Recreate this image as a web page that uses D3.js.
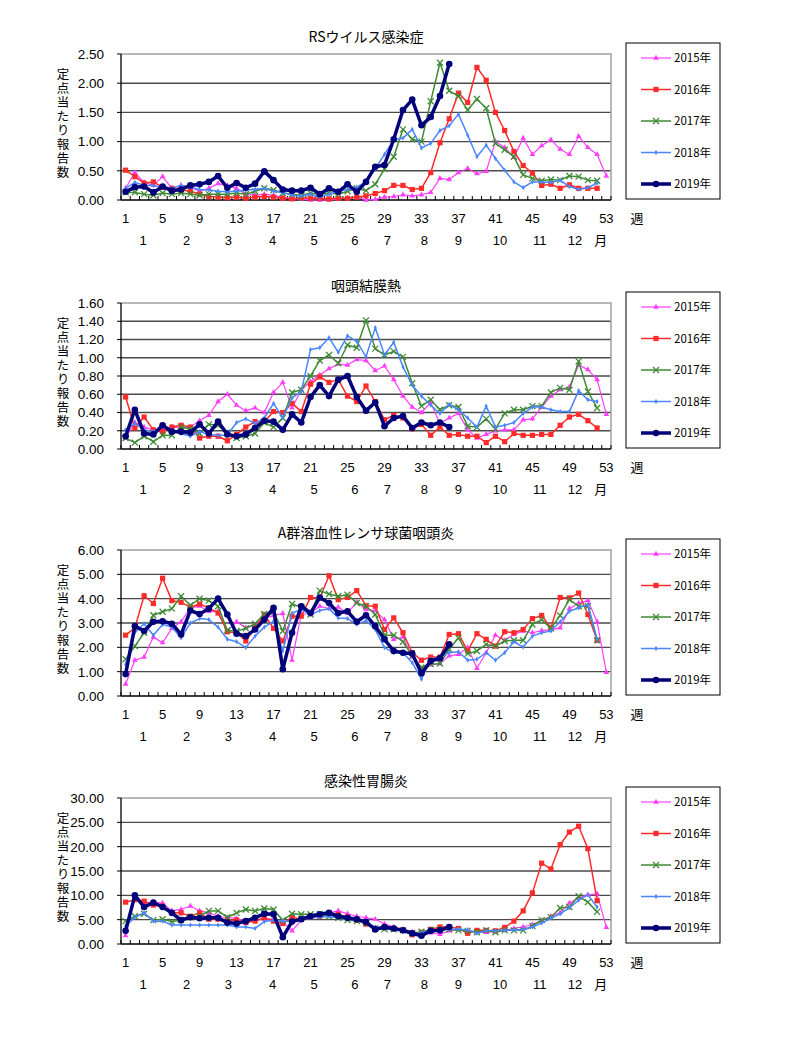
<!DOCTYPE html>
<html><head><meta charset="utf-8">
<script src="https://cdn.jsdelivr.net/npm/d3@7"></script>
<style>
body{margin:0;background:#fff;}
text{font-family:"Liberation Sans",Arial,"Noto Sans CJK JP",sans-serif;fill:#000;}
.jp{font-family:"Noto Sans CJK JP","Liberation Sans",sans-serif;}
.vt{writing-mode:vertical-rl;text-orientation:upright;}
</style>
</head><body><svg id="c" width="800" height="1050"></svg>
<script>
const weeks = d3.range(1, 54);
const years = ["2015年", "2016年", "2017年", "2018年", "2019年"];
const weekTicks = [1, 5, 9, 13, 17, 21, 25, 29, 33, 37, 41, 45, 49, 53];
const monthLabels = ["1","2","3","4","5","6","7","8","9","10","11","12"];
const monthWeeks = [2.9, 7.6, 12.1, 16.9, 21.4, 25.8, 29.3, 33.3, 37.0, 41.5, 45.8, 49.6];
const titles = ["RSウイルス感染症", "咽頭結膜熱", "A群溶血性レンサ球菌咽頭炎", "感染性胃腸炎"];
const yTitle = "定点当たり報告数";
const yMaxes = [2.5, 1.6, 6, 30];
const ySteps = [0.5, 0.2, 1, 5];

// RSウイルス感染症
const rs2015 = [0.20,0.47,0.30,0.25,0.40,0.20,0.25,0.22,0.15,0.20,0.28,0.25,0.20,0.10,0.08,0.10,0.08,0.05,0.02,0.02,0.00,0.00,0.00,0.02,0.03,0.05,0.00,0.01,0.05,0.06,0.09,0.07,0.09,0.13,0.37,0.35,0.47,0.54,0.45,0.49,1.00,0.90,0.73,1.06,0.78,0.93,1.03,0.87,0.78,1.09,0.90,0.78,0.41];
const rs2016 = [0.51,0.40,0.29,0.31,0.22,0.20,0.17,0.15,0.10,0.06,0.05,0.04,0.05,0.03,0.05,0.06,0.05,0.03,0.02,0.04,0.03,0.03,0.02,0.03,0.03,0.05,0.07,0.11,0.16,0.25,0.25,0.18,0.20,0.47,0.98,1.39,1.83,1.67,2.27,2.05,1.50,1.19,0.83,0.59,0.46,0.25,0.27,0.20,0.26,0.20,0.20,0.20];
const rs2017 = [0.13,0.13,0.10,0.08,0.12,0.10,0.12,0.10,0.08,0.10,0.10,0.10,0.12,0.10,0.15,0.20,0.17,0.12,0.10,0.08,0.12,0.10,0.12,0.10,0.15,0.20,0.16,0.27,0.53,0.74,1.21,1.04,1.00,1.69,2.35,1.87,1.78,1.54,1.73,1.57,0.97,0.86,0.74,0.43,0.37,0.33,0.35,0.34,0.41,0.40,0.34,0.33];
const rs2018 = [0.20,0.30,0.25,0.25,0.22,0.20,0.25,0.22,0.18,0.17,0.15,0.14,0.15,0.17,0.18,0.20,0.15,0.13,0.08,0.07,0.10,0.05,0.10,0.15,0.18,0.22,0.31,0.54,0.78,1.03,1.06,1.21,0.89,0.97,1.19,1.27,1.47,1.11,0.74,0.94,0.71,0.51,0.31,0.21,0.31,0.31,0.30,0.34,0.23,0.18,0.21,0.29];
const rs2019 = [0.14,0.22,0.23,0.13,0.23,0.16,0.18,0.25,0.27,0.31,0.41,0.21,0.29,0.21,0.28,0.49,0.34,0.18,0.16,0.16,0.21,0.10,0.20,0.14,0.27,0.14,0.31,0.57,0.60,1.04,1.54,1.72,1.28,1.42,1.78,2.33];

// 咽頭結膜熱
const pcf2015 = [0.12,0.29,0.24,0.21,0.21,0.24,0.23,0.24,0.31,0.37,0.52,0.60,0.48,0.42,0.45,0.40,0.62,0.73,0.45,0.65,0.74,0.81,0.88,0.93,0.92,0.98,0.97,0.86,0.91,0.76,0.58,0.46,0.40,0.51,0.28,0.34,0.39,0.21,0.12,0.16,0.20,0.21,0.21,0.32,0.33,0.46,0.58,0.65,0.68,0.92,0.87,0.76,0.38];
const pcf2016 = [0.57,0.23,0.35,0.21,0.19,0.24,0.26,0.24,0.12,0.14,0.14,0.09,0.16,0.24,0.30,0.30,0.41,0.40,0.50,0.41,0.71,0.79,0.73,0.76,0.58,0.52,0.69,0.52,0.32,0.37,0.34,0.22,0.27,0.15,0.24,0.15,0.16,0.14,0.14,0.07,0.14,0.08,0.17,0.15,0.15,0.16,0.16,0.26,0.35,0.38,0.31,0.23];
const pcf2017 = [0.12,0.07,0.14,0.08,0.15,0.15,0.24,0.22,0.17,0.27,0.26,0.18,0.12,0.14,0.17,0.29,0.24,0.34,0.62,0.65,0.80,0.97,1.03,0.94,1.14,1.11,1.41,1.10,1.03,1.07,1.01,0.72,0.47,0.54,0.43,0.48,0.46,0.25,0.24,0.33,0.22,0.39,0.43,0.43,0.47,0.47,0.62,0.67,0.65,0.96,0.63,0.45];
const pcf2018 = [0.21,0.28,0.21,0.19,0.26,0.21,0.17,0.14,0.19,0.16,0.15,0.15,0.29,0.33,0.28,0.34,0.50,0.34,0.56,0.63,1.09,1.11,1.22,1.06,1.24,1.18,1.01,1.33,1.03,1.17,0.90,0.70,0.58,0.48,0.39,0.49,0.43,0.34,0.24,0.47,0.24,0.26,0.29,0.39,0.46,0.46,0.43,0.41,0.41,0.64,0.54,0.52];
const pcf2019 = [0.14,0.43,0.17,0.16,0.26,0.19,0.19,0.18,0.27,0.17,0.30,0.16,0.14,0.16,0.23,0.31,0.30,0.21,0.38,0.29,0.57,0.70,0.58,0.76,0.80,0.57,0.42,0.51,0.25,0.34,0.36,0.23,0.29,0.26,0.29,0.24];

// A群溶血性レンサ球菌咽頭炎
const gas2015 = [0.49,1.47,1.60,2.42,2.19,2.78,3.05,3.62,3.69,3.48,3.48,2.67,3.05,2.80,2.91,3.20,3.30,3.40,1.47,3.35,3.40,3.69,3.59,3.65,3.41,3.86,3.55,3.51,3.14,2.33,2.42,1.60,1.10,1.28,1.33,1.65,1.71,1.99,1.14,1.78,2.50,2.29,2.53,2.67,2.60,2.69,2.73,2.80,3.59,3.82,3.92,3.05,0.97];
const gas2016 = [2.50,2.80,4.12,3.80,4.84,3.92,3.85,3.65,3.78,3.62,3.41,2.64,2.60,2.26,2.80,3.35,2.78,2.26,3.28,3.28,4.05,4.03,4.94,3.96,4.05,4.33,3.71,3.69,2.73,3.21,2.60,1.78,1.47,1.60,1.60,2.53,2.56,1.85,2.56,2.33,2.05,2.64,2.60,2.73,3.18,3.31,2.80,4.05,4.03,4.23,3.35,2.29];
const gas2017 = [1.51,2.05,2.60,3.32,3.46,3.59,4.10,3.73,4.00,3.92,3.69,2.69,2.67,2.78,2.97,3.37,3.46,2.67,3.78,3.65,3.35,4.33,4.19,4.10,4.16,3.82,3.69,3.35,2.50,2.50,2.23,1.65,1.17,1.31,1.33,1.92,2.39,1.74,1.85,2.12,2.05,2.26,2.29,2.29,2.94,3.14,2.78,3.31,3.96,3.69,3.69,2.29];
const gas2018 = [1.30,2.60,2.97,2.50,2.94,2.83,2.39,3.00,3.18,3.14,2.83,2.33,2.23,1.99,2.46,2.83,3.07,1.85,3.41,3.55,3.35,3.51,3.59,3.21,3.18,2.94,3.10,2.73,1.99,1.78,1.78,1.37,0.69,1.51,1.60,1.78,1.82,1.47,1.51,1.78,1.47,1.78,2.23,2.01,2.46,2.60,2.67,3.05,3.48,3.62,3.76,2.33];
const gas2019 = [0.90,2.87,2.67,3.05,3.07,2.97,2.53,3.51,3.37,3.59,4.00,3.35,2.56,2.46,2.73,3.14,3.62,1.10,2.60,3.69,3.41,4.05,3.82,3.41,3.48,3.05,3.32,2.87,2.33,1.85,1.78,1.74,0.93,1.44,1.55,2.12];

// 感染性胃腸炎
const ge2015 = [1.7,9.8,8.4,8.6,8.4,6.8,7.1,7.8,6.8,6.4,5.7,5.4,5.3,4.6,4.9,5.1,5.1,4.6,2.7,4.9,5.4,5.7,6.4,6.8,6.2,5.7,5.4,5.1,4.1,3.5,3.0,2.5,2.0,2.3,2.0,2.7,3.0,2.8,2.4,2.4,2.6,2.8,3.2,3.5,4.0,4.8,5.7,6.4,8.4,9.5,10.1,10.3,3.4];
const ge2016 = [8.6,9.1,8.8,8.0,7.8,6.4,6.4,5.7,6.4,5.1,5.1,4.9,4.9,4.4,4.7,5.4,4.7,4.2,5.5,5.1,5.7,5.7,6.4,6.1,5.5,4.9,4.1,3.2,3.5,3.2,2.8,1.9,2.4,3.0,3.5,3.5,3.2,2.2,2.8,2.8,2.7,3.4,4.7,6.8,10.5,16.6,15.4,20.4,23.0,24.2,19.6,8.9];
const ge2017 = [4.7,5.7,6.2,4.9,5.1,4.6,4.9,5.5,5.7,6.8,6.8,5.5,6.4,7.1,6.8,7.3,7.1,4.9,6.2,6.1,6.1,6.1,5.7,5.4,4.9,4.7,4.3,3.2,3.0,3.0,2.8,2.2,2.5,2.9,3.0,3.0,2.8,2.7,2.4,2.8,2.4,2.8,2.8,2.8,3.7,4.9,5.5,7.4,7.6,9.8,8.6,6.6];
const ge2018 = [3.7,5.5,6.4,4.7,4.7,3.9,3.9,3.9,3.9,3.9,3.9,3.9,3.5,3.5,3.2,4.6,4.9,4.7,4.7,5.1,5.4,5.5,5.7,5.4,5.1,4.9,4.4,3.5,3.2,3.1,2.8,2.0,2.3,2.8,3.0,3.0,3.1,2.9,2.2,2.7,2.7,2.8,2.9,3.0,3.5,4.3,5.3,6.2,7.4,9.0,10.1,7.6];
const ge2019 = [2.7,10.0,7.6,8.5,7.6,6.4,4.9,5.5,5.3,5.4,5.4,4.4,4.2,4.7,5.4,6.2,6.1,1.4,4.6,5.1,5.7,6.1,6.4,5.7,5.4,5.1,4.5,3.0,3.5,3.2,2.8,2.2,1.7,2.7,2.8,3.5];

const panels = [
  [rs2015, rs2016, rs2017, rs2018, rs2019],
  [pcf2015, pcf2016, pcf2017, pcf2018, pcf2019],
  [gas2015, gas2016, gas2017, gas2018, gas2019],
  [ge2015, ge2016, ge2017, ge2018, ge2019]
];

const styles = [
  {color:"#ff3dff", width:1.2, marker:"tri"},
  {color:"#ff2a2a", width:1.5, marker:"sq"},
  {color:"#3f8a35", width:1.5, marker:"x"},
  {color:"#4a86ff", width:1.5, marker:"dot"},
  {color:"#00007a", width:3.5, marker:"circ"}
];

const svg = d3.select("#c");
const L = 121, R = 611, H = 146;
const tops = [54, 303, 550, 798];

function drawMarker(g, type, color, x, y) {
  if (type === "tri") {
    g.append("path").attr("d", d3.symbol(d3.symbolTriangle, 14)()).attr("transform", `translate(${x},${y})`).attr("fill", color);
  } else if (type === "sq") {
    g.append("rect").attr("x", x-2.6).attr("y", y-2.6).attr("width", 5.2).attr("height", 5.2).attr("fill", color);
  } else if (type === "x") {
    g.append("path").attr("d", `M${x-3},${y-3}L${x+3},${y+3}M${x-3},${y+3}L${x+3},${y-3}`).attr("stroke", color).attr("stroke-width", 1.3);
  } else if (type === "dot") {
    g.append("path").attr("d", d3.symbol(d3.symbolDiamond, 8)()).attr("transform", `translate(${x},${y})`).attr("fill", color);
  } else if (type === "circ") {
    g.append("circle").attr("cx", x).attr("cy", y).attr("r", 3.3).attr("fill", color);
  }
}

panels.forEach((series, pi) => {
  const top = tops[pi], bottom = top + H;
  const g = svg.append("g");
  const x = d3.scalePoint().domain(weeks).range([L, R]).padding(0.5);
  const xl = d3.scaleLinear().domain([1, 53]).range([x(1), x(53)]);
  const y = d3.scaleLinear().domain([0, yMaxes[pi]]).range([bottom, top]);
  const yt = d3.range(0, yMaxes[pi] + ySteps[pi]/2, ySteps[pi]);

  g.selectAll(".grid").data(yt.filter(v => v > 0 && v < yMaxes[pi] - 1e-9)).enter().append("line")
    .attr("x1", L).attr("x2", R).attr("y1", d => y(d)).attr("y2", d => y(d))
    .attr("stroke", "#4a4a4a").attr("stroke-width", 1.4);
  g.append("path").attr("d", `M${L},${top}H${R}V${bottom}`).attr("fill", "none").attr("stroke", "#a0a0a0").attr("stroke-width", 1.5);
  g.append("line").attr("x1", L).attr("x2", L).attr("y1", top).attr("y2", bottom).attr("stroke", "#000").attr("stroke-width", 1.3);
  g.append("line").attr("x1", L).attr("x2", R).attr("y1", bottom).attr("y2", bottom).attr("stroke", "#000").attr("stroke-width", 1.3);
  d3.range(0, 54).forEach(i => {
    const xx = xl(i + 0.5);
    g.append("line").attr("x1", xx).attr("x2", xx).attr("y1", bottom).attr("y2", bottom - 4).attr("stroke", "#000").attr("stroke-width", 1);
  });
  yt.forEach(v => {
    g.append("line").attr("x1", L - 4).attr("x2", L).attr("y1", y(v)).attr("y2", y(v)).attr("stroke", "#000").attr("stroke-width", 1);
  });
  g.selectAll(".yl").data(yt).enter().append("text")
    .attr("x", 104).attr("y", d => y(d)).attr("dy", "0.36em").attr("text-anchor", "end")
    .attr("font-size", 13.5).text(d => d.toFixed(2));
  g.selectAll(".xl").data(weekTicks).enter().append("text")
    .attr("x", d => x(d)).attr("y", bottom + 18).attr("dy", "0.36em").attr("text-anchor", "middle")
    .attr("font-size", 13).text(d => d);
  g.append("text").attr("class", "jp").attr("x", 637).attr("y", bottom + 18).attr("dy", "0.36em").attr("text-anchor", "middle").attr("font-size", 13).text("週");
  g.selectAll(".ml").data(monthLabels).enter().append("text")
    .attr("x", (d, i) => xl(monthWeeks[i])).attr("y", bottom + 40).attr("dy", "0.36em").attr("text-anchor", "middle")
    .attr("font-size", 13).text(d => d);
  g.append("text").attr("class", "jp").attr("x", xl(52.4)).attr("y", bottom + 40).attr("dy", "0.36em").attr("text-anchor", "middle").attr("font-size", 13).text("月");
  g.append("text").attr("class", "jp").attr("x", 366).attr("y", top - 17).attr("dy", "0.36em").attr("text-anchor", "middle").attr("font-size", 14).text(titles[pi]);
  // y title: one vertical text
  g.append("text").attr("class", "jp vt").attr("x", 63).attr("y", top + 14)
    .attr("font-size", 12.5).attr("letter-spacing", 1.5).text(yTitle);

  series.forEach((vals, si) => {
    const st = styles[si];
    const pts = vals.map((v, i) => [x(weeks[i]), y(v)]);
    g.append("path").attr("d", d3.line()(pts)).attr("fill", "none")
      .attr("stroke", st.color).attr("stroke-width", st.width).attr("stroke-linejoin", "round");
    pts.forEach(p => drawMarker(g, st.marker, st.color, p[0], p[1]));
  });

  const lt = top - 11, lb = bottom - 1;
  g.append("rect").attr("x", 626).attr("y", lt).attr("width", 94).attr("height", lb - lt)
    .attr("fill", "#fff").attr("stroke", "#000").attr("stroke-width", 1);
  years.forEach((yr, si) => {
    const st = styles[si];
    const ly = lt + 15 + si * 31.5;
    g.append("line").attr("x1", 641).attr("x2", 671).attr("y1", ly).attr("y2", ly).attr("stroke", st.color).attr("stroke-width", st.width);
    drawMarker(g, st.marker, st.color, 656, ly);
    g.append("text").attr("class", "jp").attr("x", 674).attr("y", ly).attr("dy", "0.36em").attr("font-size", 11.5).text(yr);
  });
});
</script>
</body></html>
